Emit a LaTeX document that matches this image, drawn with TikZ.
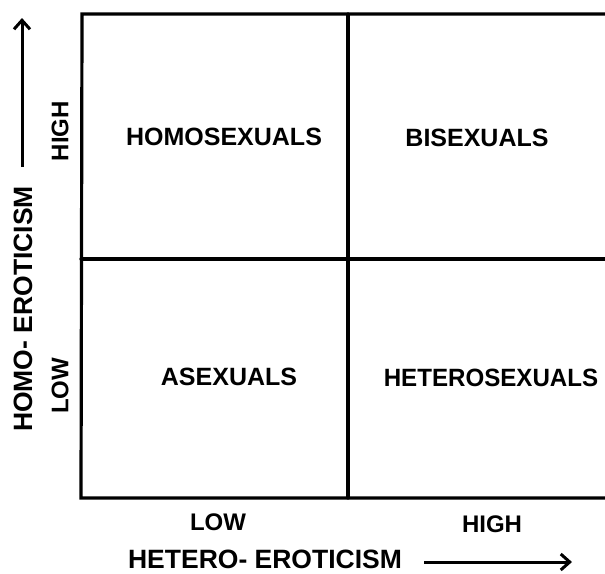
\documentclass[tikz,border=0pt]{standalone}
\usepackage{fontspec}
\usepackage{graphicx}
\setmainfont{Liberation Sans}
\usetikzlibrary{arrows.meta}
\begin{document}
\begin{tikzpicture}[x=1pt,y=-1pt,
  grid/.style={line width=3.2pt, line cap=round},
  quad/.style={font=\bfseries\fontsize{25}{28}\selectfont, inner sep=0pt},
  tick/.style={font=\bfseries\fontsize{24}{27}\selectfont, inner sep=0pt},
  axis/.style={font=\bfseries\fontsize{26.5}{30}\selectfont, inner sep=0pt},
  axarrow/.style={line width=3pt, -{Straight Barb[length=9pt,width=16pt,line width=3pt]}}]
\useasboundingbox (0,0) rectangle (605,573);
\coordinate (tl) at (82,14);
\coordinate (tr) at (607,14);
\coordinate (bl) at (81,498);
\coordinate (br) at (607,498);
\coordinate (mt) at (348,14);
\coordinate (mb) at (348,498);
\coordinate (ml) at (81,259);
\coordinate (mr) at (607,259);
\draw[grid] (tr) -- (tl) -- (bl) -- (br);
\draw[grid] (mt) -- (mb);
\draw[grid] (ml) -- (mr);
\node[quad] (homo) at (224,137) {HOMOSEXUALS};
\node[quad] (bi) at (477,138) {BISEXUALS};
\node[quad] (a) at (229,377) {ASEXUALS};
\node[quad] (hetero) at (491,378) {\scalebox{0.965}[1]{HETEROSEXUALS}};
\node[tick, rotate=90] (yhigh) at (60,131) {HIGH};
\node[tick, rotate=90] (ylow) at (60,386) {LOW};
\node[tick] (xlow) at (218,522) {LOW};
\node[tick] (xhigh) at (492,524) {HIGH};
\node[axis, rotate=90] (yaxis) at (23,309) {HOMO- EROTICISM};
\node[axis] (xaxis) at (265,559) {HETERO- EROTICISM};
\coordinate (ya0) at (22,167);
\coordinate (ya1) at (22,18);
\coordinate (xa0) at (424,562);
\coordinate (xa1) at (572,562);
\draw[axarrow] (ya0) -- (ya1);
\draw[axarrow] (xa0) -- (xa1);
\end{tikzpicture}
\end{document}
